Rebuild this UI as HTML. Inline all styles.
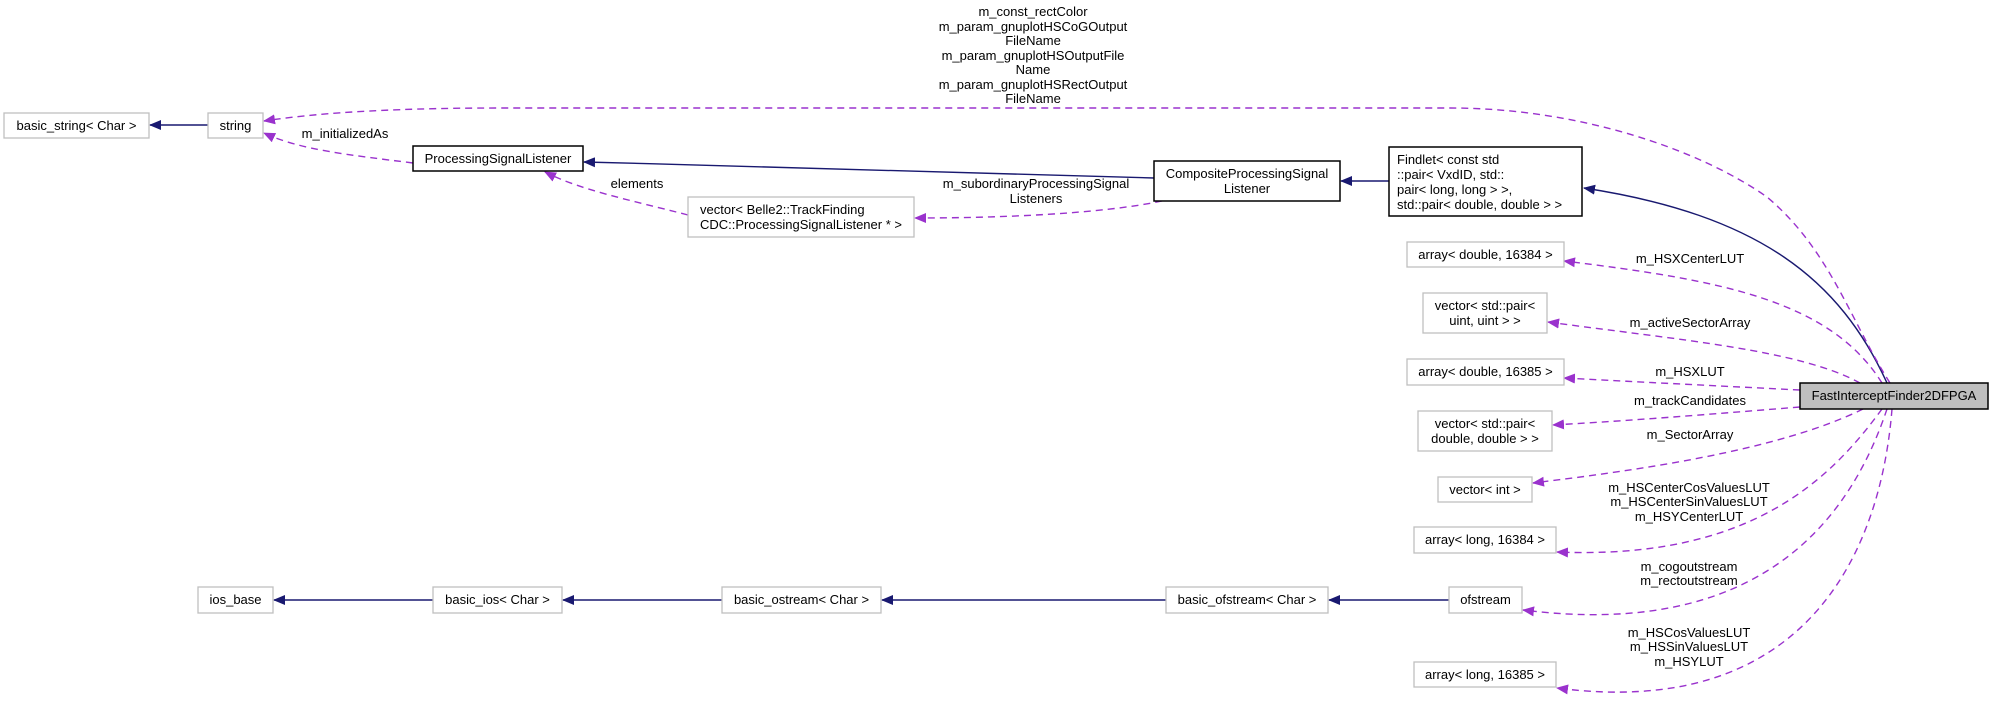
<!DOCTYPE html>
<html><head><meta charset="utf-8"><style>
html,body{margin:0;padding:0;background:#fff;}
svg{display:block;}
text{font-family:"Liberation Sans",Arial,sans-serif;font-size:13px;fill:#000;}
.g{fill:#fff;stroke:#bfbfbf;stroke-width:1.3;}
.b{fill:#fff;stroke:#000;stroke-width:1.5;}
.s{fill:none;stroke:#191970;stroke-width:1.4;}
.d{fill:none;stroke:#9a32cd;stroke-width:1.4;stroke-dasharray:7,5;}
</style></head><body>
<svg width="1993" height="709" viewBox="0 0 1993 709" xmlns="http://www.w3.org/2000/svg">
<defs>
<marker id="ab" markerWidth="12" markerHeight="10" refX="11" refY="5" orient="auto" markerUnits="userSpaceOnUse"><path d="M0,0 L12,5 L0,10 z" fill="#191970"/></marker>
<marker id="ap" markerWidth="12" markerHeight="10" refX="11" refY="5" orient="auto" markerUnits="userSpaceOnUse"><path d="M0,0 L12,5 L0,10 z" fill="#9a32cd"/></marker>
</defs>

<!-- edges -->
<path class="s" d="M208,125 L150,125" marker-end="url(#ab)"/>
<path class="s" d="M1154,178 C900,172 750,166 584,162" marker-end="url(#ab)"/>
<path class="s" d="M1389,181 L1341,181" marker-end="url(#ab)"/>
<path class="s" d="M1887,383 C1840,280 1760,215 1584,188" marker-end="url(#ab)"/>
<path class="s" d="M1449,600 L1329,600" marker-end="url(#ab)"/>
<path class="s" d="M1166,600 L882,600" marker-end="url(#ab)"/>
<path class="s" d="M722,600 L563,600" marker-end="url(#ab)"/>
<path class="s" d="M433,600 L274,600" marker-end="url(#ab)"/>

<path class="d" d="M1890,383 C1850,320 1830,250 1767,197 C1700,150 1580,108 1450,108 L500,108 C380,108 310,114 264,121" marker-end="url(#ap)"/>
<path class="d" d="M413,163 C350,155 300,150 264,133" marker-end="url(#ap)"/>
<path class="d" d="M688,215 C630,200 580,190 545,172" marker-end="url(#ap)"/>
<path class="d" d="M1162,201 C1100,214 1000,218 915,218" marker-end="url(#ap)"/>
<path class="d" d="M1882,383 C1830,300 1720,280 1564,261" marker-end="url(#ap)"/>
<path class="d" d="M1860,383 C1800,350 1680,340 1548,322" marker-end="url(#ap)"/>
<path class="d" d="M1800,390 C1700,385 1640,382 1564,378" marker-end="url(#ap)"/>
<path class="d" d="M1800,407 C1700,415 1640,420 1553,425" marker-end="url(#ap)"/>
<path class="d" d="M1863,409 C1780,450 1640,470 1533,483" marker-end="url(#ap)"/>
<path class="d" d="M1882,409 C1830,480 1750,560 1557,552" marker-end="url(#ap)"/>
<path class="d" d="M1887,409 C1850,520 1760,640 1523,610" marker-end="url(#ap)"/>
<path class="d" d="M1892,409 C1880,560 1800,720 1557,688" marker-end="url(#ap)"/>

<!-- nodes -->
<rect class="g" x="4" y="113" width="145" height="25"/><text x="76.5" y="130" text-anchor="middle">basic_string&lt; Char &gt;</text>
<rect class="g" x="208" y="113" width="55" height="25"/><text x="235.5" y="130" text-anchor="middle">string</text>
<rect class="b" x="413" y="146" width="170" height="25"/><text x="498" y="163" text-anchor="middle">ProcessingSignalListener</text>
<rect class="g" x="688" y="197" width="226" height="40"/><text x="700" y="214">vector&lt; Belle2::TrackFinding</text><text x="700" y="229">CDC::ProcessingSignalListener * &gt;</text>
<rect class="b" x="1154" y="161" width="186" height="40"/><text x="1247" y="178" text-anchor="middle">CompositeProcessingSignal</text><text x="1247" y="193" text-anchor="middle">Listener</text>
<rect class="b" x="1389" y="147" width="193" height="69"/>
<text x="1397" y="164">Findlet&lt; const std</text><text x="1397" y="179">::pair&lt; VxdID, std::</text><text x="1397" y="194">pair&lt; long, long &gt; &gt;,</text><text x="1397" y="209"> std::pair&lt; double, double &gt; &gt;</text>
<rect class="g" x="1407" y="242" width="157" height="25"/><text x="1485.5" y="259" text-anchor="middle">array&lt; double, 16384 &gt;</text>
<rect class="g" x="1423" y="293" width="124" height="40"/><text x="1485" y="310" text-anchor="middle">vector&lt; std::pair&lt;</text><text x="1485" y="325" text-anchor="middle">uint, uint &gt; &gt;</text>
<rect class="g" x="1407" y="359" width="157" height="26"/><text x="1485.5" y="376" text-anchor="middle">array&lt; double, 16385 &gt;</text>
<rect class="g" x="1418" y="411" width="134" height="40"/><text x="1485" y="428" text-anchor="middle">vector&lt; std::pair&lt;</text><text x="1485" y="443" text-anchor="middle">double, double &gt; &gt;</text>
<rect class="g" x="1438" y="477" width="94" height="25"/><text x="1485" y="494" text-anchor="middle">vector&lt; int &gt;</text>
<rect class="g" x="1414" y="527" width="142" height="26"/><text x="1485" y="544" text-anchor="middle">array&lt; long, 16384 &gt;</text>
<rect class="g" x="1449" y="587" width="73" height="26"/><text x="1485.5" y="604" text-anchor="middle">ofstream</text>
<rect class="g" x="1414" y="662" width="142" height="25"/><text x="1485" y="679" text-anchor="middle">array&lt; long, 16385 &gt;</text>
<rect class="g" x="1166" y="587" width="162" height="26"/><text x="1247" y="604" text-anchor="middle">basic_ofstream&lt; Char &gt;</text>
<rect class="g" x="722" y="587" width="159" height="26"/><text x="801.5" y="604" text-anchor="middle">basic_ostream&lt; Char &gt;</text>
<rect class="g" x="433" y="587" width="129" height="26"/><text x="497.5" y="604" text-anchor="middle">basic_ios&lt; Char &gt;</text>
<rect class="g" x="198" y="587" width="75" height="26"/><text x="235.5" y="604" text-anchor="middle">ios_base</text>
<rect x="1800" y="383" width="188" height="26" fill="#bfbfbf" stroke="#000" stroke-width="1.5"/><text x="1894" y="400" text-anchor="middle">FastInterceptFinder2DFPGA</text>

<!-- labels -->
<g text-anchor="middle">
<text x="1033" y="16">m_const_rectColor</text>
<text x="1033" y="31">m_param_gnuplotHSCoGOutput</text>
<text x="1033" y="45">FileName</text>
<text x="1033" y="60">m_param_gnuplotHSOutputFile</text>
<text x="1033" y="74">Name</text>
<text x="1033" y="89">m_param_gnuplotHSRectOutput</text>
<text x="1033" y="103">FileName</text>
<text x="345" y="138">m_initializedAs</text>
<text x="637" y="188">elements</text>
<text x="1036" y="188">m_subordinaryProcessingSignal</text>
<text x="1036" y="203">Listeners</text>
<text x="1690" y="263">m_HSXCenterLUT</text>
<text x="1690" y="327">m_activeSectorArray</text>
<text x="1690" y="376">m_HSXLUT</text>
<text x="1690" y="405">m_trackCandidates</text>
<text x="1690" y="439">m_SectorArray</text>
<text x="1689" y="492">m_HSCenterCosValuesLUT</text>
<text x="1689" y="506">m_HSCenterSinValuesLUT</text>
<text x="1689" y="521">m_HSYCenterLUT</text>
<text x="1689" y="571">m_cogoutstream</text>
<text x="1689" y="585">m_rectoutstream</text>
<text x="1689" y="637">m_HSCosValuesLUT</text>
<text x="1689" y="651">m_HSSinValuesLUT</text>
<text x="1689" y="666">m_HSYLUT</text>
</g>
</svg>
</body></html>
